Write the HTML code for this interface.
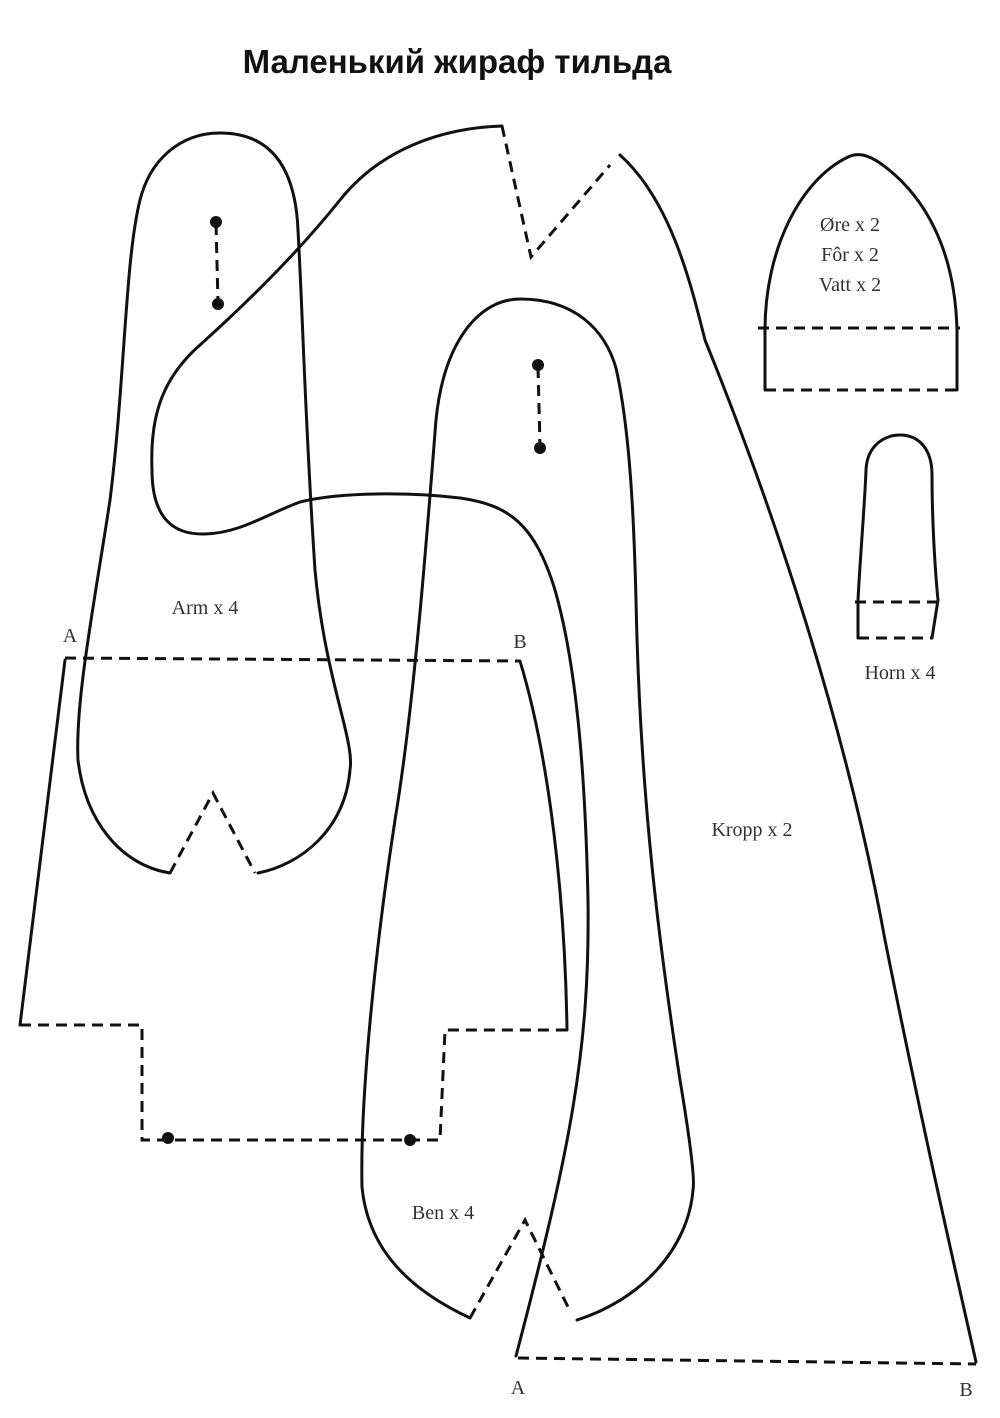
<!DOCTYPE html>
<html><head><meta charset="utf-8"><style>
html,body{margin:0;padding:0;background:#fff;}
svg{display:block}
.s{fill:none;stroke:#111;stroke-width:3;stroke-linecap:round;stroke-linejoin:round}
.d{fill:none;stroke:#111;stroke-width:3;stroke-dasharray:11 7}
.t{font-family:"Liberation Serif",serif;font-size:20px;fill:#333}
</style></head><body>
<svg width="1000" height="1418" viewBox="0 0 1000 1418">
<text x="457" y="73" text-anchor="middle" font-family="Liberation Sans, DejaVu Sans, sans-serif" font-weight="bold" font-size="33" fill="#111">Маленький жираф тильда</text>

<!-- Arm -->
<path class="s" d="M170,873 C120,865 85,820 78,760 C75,700 95,600 110,500 C125,380 125,260 140,200 C150,160 180,133 220,133 C265,133 295,160 298,230 C303,320 305,420 315,570 C325,680 355,740 350,770 C345,830 300,865 258,873"/>
<path class="d" d="M170,873 L213,793 L255,873"/>
<line class="d" x1="216" y1="224" x2="218" y2="302"/>
<circle cx="216" cy="222" r="6" fill="#111"/><circle cx="218" cy="304" r="6" fill="#111"/>
<text class="t" x="205" y="614" text-anchor="middle">Arm x 4</text>

<!-- Body (Kropp) -->
<path class="s" d="M502,126 C440,128 380,150 340,200 C300,250 250,300 200,345 C160,380 150,420 152,470 C152,520 175,535 205,534 C240,533 265,515 300,502 C340,492 410,492 460,498 C510,505 535,525 555,590 C575,660 585,760 588,900 C590,1050 570,1150 516,1356"/>
<path class="d" d="M518,1358 L976,1364"/>
<path class="s" d="M976,1362 C960,1290 925,1140 885,940 C845,720 770,500 705,340 C690,280 670,200 620,155"/>
<path class="d" d="M502,126 L531,257 L610,165"/>
<text class="t" x="752" y="836" text-anchor="middle">Kropp x 2</text>
<text class="t" x="518" y="1394" text-anchor="middle" font-size="16">A</text>
<text class="t" x="966" y="1396" text-anchor="middle" font-size="16">B</text>

<!-- Ben (tall leg) -->
<path class="s" d="M470,1318 C410,1290 368,1250 362,1187 C360,1100 375,950 395,820 C415,700 428,520 436,420 C444,340 480,299 520,299 C575,299 605,330 616,368 C630,430 634,520 636,600 C640,800 660,950 680,1080 C690,1140 695,1180 693,1190 C688,1250 640,1300 577,1320"/>
<path class="d" d="M470,1318 L525,1220 L570,1311"/>
<line class="d" x1="538" y1="367" x2="540" y2="446"/>
<circle cx="538" cy="365" r="6" fill="#111"/><circle cx="540" cy="448" r="6" fill="#111"/>
<text class="t" x="443" y="1219" text-anchor="middle">Ben x 4</text>

<!-- Ben outline with A-B -->
<path class="d" d="M65,658 L520,661"/>
<path class="s" d="M65,660 L20,1025"/>
<path class="d" d="M20,1025 L142,1025 L142,1140 L440,1140 L445,1030 L567,1030"/>
<path class="s" d="M567,1030 C565,900 550,760 520,661"/>
<circle cx="168" cy="1138" r="6" fill="#111"/><circle cx="410" cy="1140" r="6" fill="#111"/>
<text class="t" x="70" y="642" text-anchor="middle" font-size="16">A</text>
<text class="t" x="520" y="648" text-anchor="middle" font-size="16">B</text>

<!-- Ear -->
<path class="s" d="M765,390 L765,330 C765,250 800,180 848,157 C858,152 868,155 880,163 C925,195 955,250 957,330 L957,390"/>
<path class="d" d="M758,328 L960,328"/>
<path class="d" d="M765,390 L957,390"/>
<text class="t" x="850" y="231" text-anchor="middle" font-size="21">Øre x 2</text>
<text class="t" x="850" y="261" text-anchor="middle" font-size="21">Fôr x 2</text>
<text class="t" x="850" y="291" text-anchor="middle" font-size="21">Vatt x 2</text>

<!-- Horn -->
<path class="s" d="M858,638 L858,600 C860,560 865,500 866,470 C867,445 885,435 900,435 C918,435 932,448 932,475 C932,520 935,570 938,600 L932,638"/>
<path class="d" d="M855,602 L938,602"/>
<path class="d" d="M858,638 L932,638"/>
<text class="t" x="900" y="679" text-anchor="middle">Horn x 4</text>
</svg>
</body></html>
